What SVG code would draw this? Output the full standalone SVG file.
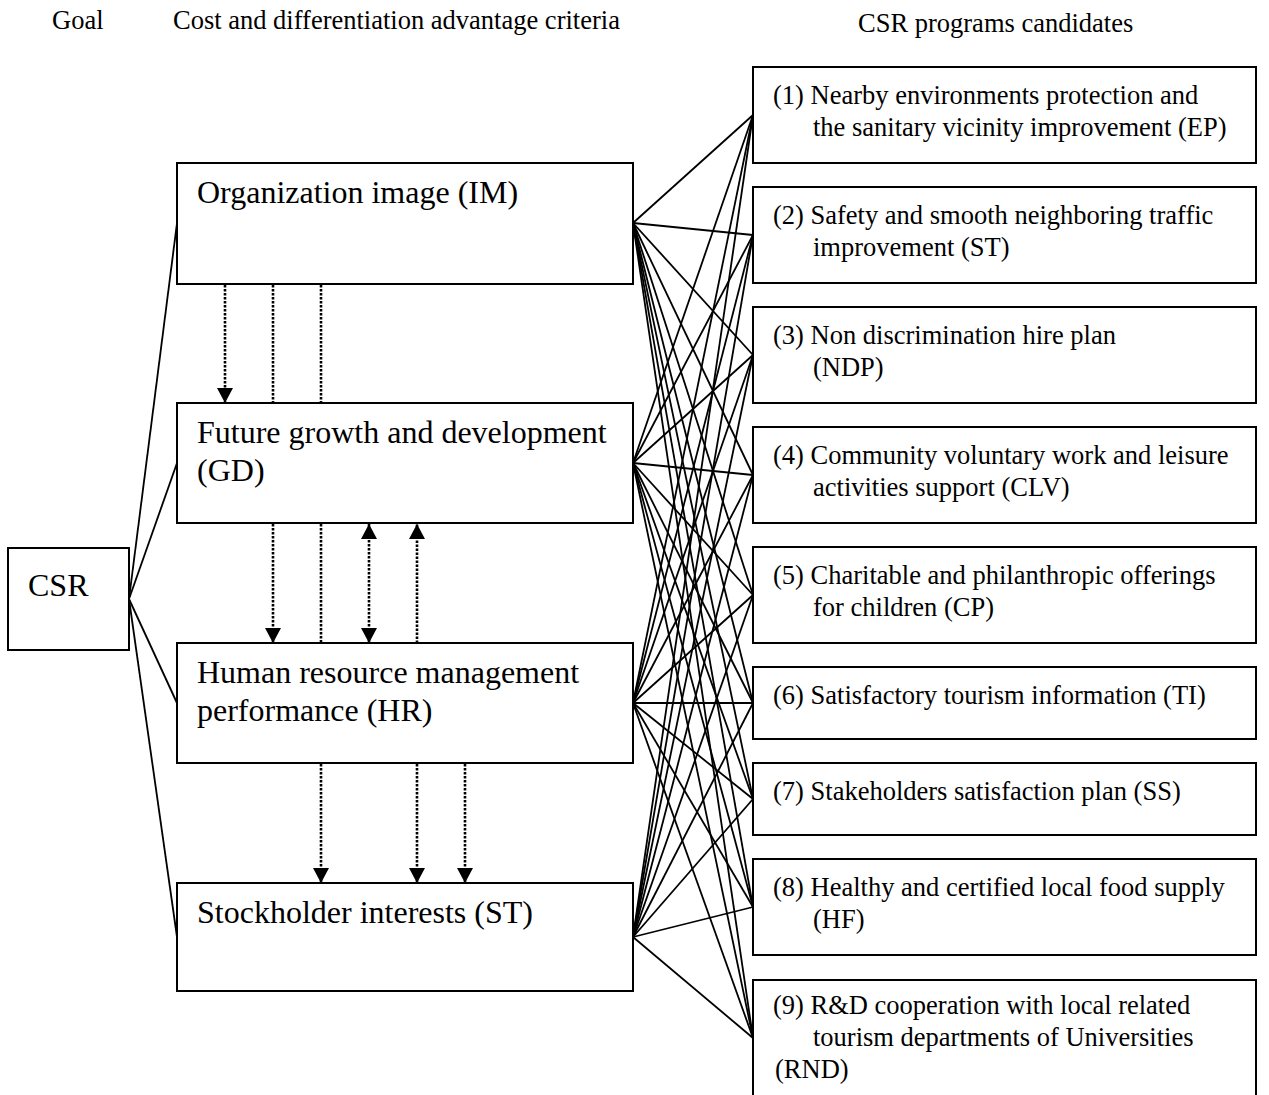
<svg xmlns="http://www.w3.org/2000/svg" width="1269" height="1095" viewBox="0 0 1269 1095">
  <style>
    text { font-family: "Liberation Serif", "Times New Roman", serif; fill: #000; }
    .hdr { font-size: 26.5px; }
    .crit { font-size: 32px; }
    .prog { font-size: 26.5px; }
    .box { fill: #fff; stroke: #000; stroke-width: 2; }
    .link { stroke: #000; stroke-width: 1.8; fill: none; }
    .dot { stroke: #000; stroke-width: 2.6; stroke-dasharray: 2.5 1.5; fill: none; }
  </style>
  <defs>
    <marker id="arrow" markerUnits="userSpaceOnUse" markerWidth="16" markerHeight="16" refX="15" refY="8" orient="auto-start-reverse">
      <path d="M0,0 L15,8 L0,16 Z" fill="#000"/>
    </marker>
  </defs>
  <rect width="1269" height="1095" fill="#fff"/>

  <!-- column headings -->
  <g id="headings">
    <text class="hdr" x="52" y="29">Goal</text>
    <text class="hdr" x="173" y="29">Cost and differentiation advantage criteria</text>
    <text class="hdr" x="858" y="32">CSR programs candidates</text>
  </g>

  <g id="connectors">
    <!-- goal to criteria -->
    <line class="link" x1="129" y1="599" x2="177" y2="223"/>
    <line class="link" x1="129" y1="599" x2="177" y2="463"/>
    <line class="link" x1="129" y1="599" x2="177" y2="703"/>
    <line class="link" x1="129" y1="599" x2="177" y2="937"/>

    <!-- criteria to programs: every criterion links to every program -->
    <g id="from-IM">
      <line class="link" x1="633" y1="223" x2="753" y2="115"/>
      <line class="link" x1="633" y1="223" x2="753" y2="235"/>
      <line class="link" x1="633" y1="223" x2="753" y2="355"/>
      <line class="link" x1="633" y1="223" x2="753" y2="475"/>
      <line class="link" x1="633" y1="223" x2="753" y2="595"/>
      <line class="link" x1="633" y1="223" x2="753" y2="703"/>
      <line class="link" x1="633" y1="223" x2="753" y2="799"/>
      <line class="link" x1="633" y1="223" x2="753" y2="907"/>
      <line class="link" x1="633" y1="223" x2="753" y2="1038"/>
    </g>
    <g id="from-GD">
      <line class="link" x1="633" y1="463" x2="753" y2="115"/>
      <line class="link" x1="633" y1="463" x2="753" y2="235"/>
      <line class="link" x1="633" y1="463" x2="753" y2="355"/>
      <line class="link" x1="633" y1="463" x2="753" y2="475"/>
      <line class="link" x1="633" y1="463" x2="753" y2="595"/>
      <line class="link" x1="633" y1="463" x2="753" y2="703"/>
      <line class="link" x1="633" y1="463" x2="753" y2="799"/>
      <line class="link" x1="633" y1="463" x2="753" y2="907"/>
      <line class="link" x1="633" y1="463" x2="753" y2="1038"/>
    </g>
    <g id="from-HR">
      <line class="link" x1="633" y1="703" x2="753" y2="115"/>
      <line class="link" x1="633" y1="703" x2="753" y2="235"/>
      <line class="link" x1="633" y1="703" x2="753" y2="355"/>
      <line class="link" x1="633" y1="703" x2="753" y2="475"/>
      <line class="link" x1="633" y1="703" x2="753" y2="595"/>
      <line class="link" x1="633" y1="703" x2="753" y2="703"/>
      <line class="link" x1="633" y1="703" x2="753" y2="799"/>
      <line class="link" x1="633" y1="703" x2="753" y2="907"/>
      <line class="link" x1="633" y1="703" x2="753" y2="1038"/>
    </g>
    <g id="from-ST">
      <line class="link" x1="633" y1="937" x2="753" y2="115"/>
      <line class="link" x1="633" y1="937" x2="753" y2="235"/>
      <line class="link" x1="633" y1="937" x2="753" y2="355"/>
      <line class="link" x1="633" y1="937" x2="753" y2="475"/>
      <line class="link" x1="633" y1="937" x2="753" y2="595"/>
      <line class="link" x1="633" y1="937" x2="753" y2="703"/>
      <line class="link" x1="633" y1="937" x2="753" y2="799"/>
      <line class="link" x1="633" y1="937" x2="753" y2="907"/>
      <line class="link" x1="633" y1="937" x2="753" y2="1038"/>
    </g>

    <!-- dotted influence links between criteria -->
    <g id="influences">
      <!-- gap IM / GD -->
      <line class="dot" x1="225" y1="285" x2="225" y2="403" marker-end="url(#arrow)"/>
      <line class="dot" x1="273" y1="285" x2="273" y2="403"/>
      <line class="dot" x1="321" y1="285" x2="321" y2="403"/>
      <!-- gap GD / HR -->
      <line class="dot" x1="273" y1="524" x2="273" y2="643" marker-end="url(#arrow)"/>
      <line class="dot" x1="321" y1="524" x2="321" y2="643"/>
      <line class="dot" x1="369" y1="524" x2="369" y2="643" marker-start="url(#arrow)" marker-end="url(#arrow)"/>
      <line class="dot" x1="417" y1="643" x2="417" y2="524" marker-end="url(#arrow)"/>
      <!-- gap HR / ST -->
      <line class="dot" x1="321" y1="764" x2="321" y2="883" marker-end="url(#arrow)"/>
      <line class="dot" x1="417" y1="764" x2="417" y2="883" marker-end="url(#arrow)"/>
      <line class="dot" x1="465" y1="764" x2="465" y2="883" marker-end="url(#arrow)"/>
    </g>
  </g>

  <!-- goal -->
  <g id="CSR">
    <rect class="box" x="8" y="548" width="121" height="102"/>
    <text class="crit" x="28" y="596">CSR</text>
  </g>

  <!-- criteria -->
  <g id="IM">
    <rect class="box" x="177" y="163" width="456" height="121"/>
    <text class="crit" x="197" y="203">Organization image (IM)</text>
  </g>
  <g id="GD">
    <rect class="box" x="177" y="403" width="456" height="120"/>
    <text class="crit" x="197" y="443">Future growth and development</text>
    <text class="crit" x="197" y="481">(GD)</text>
  </g>
  <g id="HR">
    <rect class="box" x="177" y="643" width="456" height="120"/>
    <text class="crit" x="197" y="683">Human resource management</text>
    <text class="crit" x="197" y="721">performance (HR)</text>
  </g>
  <g id="ST">
    <rect class="box" x="177" y="883" width="456" height="108"/>
    <text class="crit" x="197" y="923">Stockholder interests (ST)</text>
  </g>

  <!-- programs -->
  <g id="P1">
    <rect class="box" x="753" y="67" width="503" height="96"/>
    <text class="prog" x="773" y="104">(1) Nearby environments protection and</text>
    <text class="prog" x="813" y="136">the sanitary vicinity improvement (EP)</text>
  </g>
  <g id="P2">
    <rect class="box" x="753" y="187" width="503" height="96"/>
    <text class="prog" x="773" y="224">(2) Safety and smooth neighboring traffic</text>
    <text class="prog" x="813" y="256">improvement (ST)</text>
  </g>
  <g id="P3">
    <rect class="box" x="753" y="307" width="503" height="96"/>
    <text class="prog" x="773" y="344">(3) Non discrimination hire plan</text>
    <text class="prog" x="813" y="376">(NDP)</text>
  </g>
  <g id="P4">
    <rect class="box" x="753" y="427" width="503" height="96"/>
    <text class="prog" x="773" y="464">(4) Community voluntary work and leisure</text>
    <text class="prog" x="813" y="496">activities support (CLV)</text>
  </g>
  <g id="P5">
    <rect class="box" x="753" y="547" width="503" height="96"/>
    <text class="prog" x="773" y="584">(5) Charitable and philanthropic offerings</text>
    <text class="prog" x="813" y="616">for children (CP)</text>
  </g>
  <g id="P6">
    <rect class="box" x="753" y="667" width="503" height="72"/>
    <text class="prog" x="773" y="704">(6) Satisfactory tourism information (TI)</text>
  </g>
  <g id="P7">
    <rect class="box" x="753" y="763" width="503" height="72"/>
    <text class="prog" x="773" y="800">(7) Stakeholders satisfaction plan (SS)</text>
  </g>
  <g id="P8">
    <rect class="box" x="753" y="859" width="503" height="96"/>
    <text class="prog" x="773" y="896">(8) Healthy and certified local food supply</text>
    <text class="prog" x="813" y="928">(HF)</text>
  </g>
  <g id="P9">
    <rect class="box" x="753" y="980" width="503" height="125"/>
    <text class="prog" x="773" y="1014">(9) R&amp;D cooperation with local related</text>
    <text class="prog" x="813" y="1046">tourism departments of Universities</text>
    <text class="prog" x="775" y="1078">(RND)</text>
  </g>
</svg>
